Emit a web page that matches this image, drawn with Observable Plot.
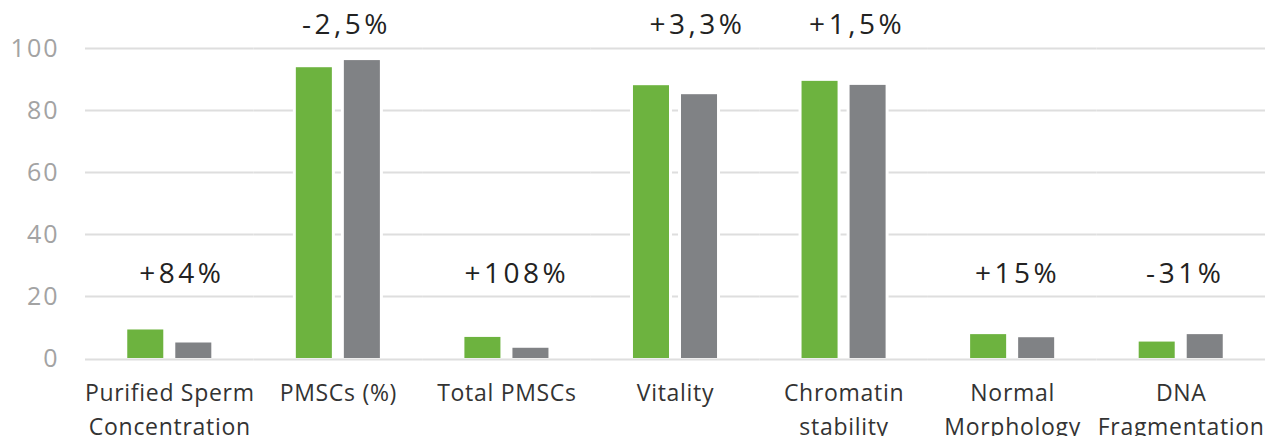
<!DOCTYPE html>
<html>
<head>
<meta charset="utf-8">
<script src="https://cdn.jsdelivr.net/npm/d3@7"></script>
<script src="https://cdn.jsdelivr.net/npm/@observablehq/plot@0.6"></script>
<style>
  html, body { margin: 0; padding: 0; background: #fff; }
  #chart { width: 1268px; height: 436px; overflow: hidden; }
  #chart g[aria-label="text"] text { letter-spacing: 3.5px; }
  #chart g[aria-label="y-axis tick label"] text { letter-spacing: 2px; }
  #chart g[aria-label="fx-axis tick label"] text { letter-spacing: 0.7px; }
</style>
</head>
<body>
<div id="chart"></div>
<script>
// ---- data ----
const categories = [
  "Purified Sperm\nConcentration",
  "PMSCs (%)",
  "Total PMSCs",
  "Vitality",
  "Chromatin\nstability",
  "Normal\nMorphology",
  "DNA\nFragmentation"
];
const series = ["Treated", "Control"];
const treatedValues = [9.2, 93.8, 6.8, 88.0, 89.4, 7.7, 5.3];
const controlValues = [5.0, 96.1, 3.3, 85.1, 88.1, 6.7, 7.7];
const changeLabels = ["+84%", "-2,5%", "+108%", "+3,3%", "+1,5%", "+15%", "-31%"];
const yTicks = [0, 20, 40, 60, 80, 100];

// ---- tables built from the arrays ----
const bars = [];
categories.forEach((c, i) => {
  bars.push({category: c, series: series[0], value: treatedValues[i]});
  bars.push({category: c, series: series[1], value: controlValues[i]});
});
// the change labels sit slightly right of their group centre in the original
const labelNudge = [12, 8, 10, 22, 13, 5, 4];
const notes = categories.map((c, i) => {
  const m = Math.max(treatedValues[i], controlValues[i]);
  return {category: c, label: changeLabels[i], level: m > 50 ? 107.6 : 27.2, nudge: labelNudge[i]};
});

const chart = Plot.plot({
  width: 1268,
  height: 436,
  marginLeft: 85,
  marginRight: 3,
  marginTop: 48,
  marginBottom: 78,
  style: {fontFamily: "Open Sans", background: "#fff"},
  fx: {domain: categories, padding: 0, label: null, round: false},
  x: {domain: series, paddingInner: 0.25, paddingOuter: 0.88, axis: null, round: false},
  y: {domain: [0, 100], label: null},
  color: {domain: series, range: ["#6db33f", "#808285"]},
  marks: [
    Plot.ruleY(yTicks.filter(d => d > 0), {stroke: "#dedede", strokeWidth: 2}),
    Plot.barY(bars, {fx: "category", x: "series", y: "value", fill: "white",
      insetLeft: -3, insetRight: -3, insetTop: -3}),
    Plot.barY(bars, {fx: "category", x: "series", y: "value", fill: "series"}),
    Plot.ruleY([0], {stroke: "#dedede", strokeWidth: 2, dy: 1}),
    ...notes.map(n => Plot.text([n], {fx: "category", y: "level", text: "label",
      fontSize: 28, fill: "#222", dx: n.nudge})),
    Plot.axisY({ticks: yTicks, tickSize: 0, tickPadding: 26, fontSize: 25,
      color: "#a3a3a3", label: null}),
    Plot.axisFx({anchor: "bottom", tickSize: 0, tickPadding: 18, fontSize: 23,
      lineHeight: 1.48, color: "#333", label: null})
  ]
});
document.getElementById("chart").appendChild(chart);
</script>
</body>
</html>
